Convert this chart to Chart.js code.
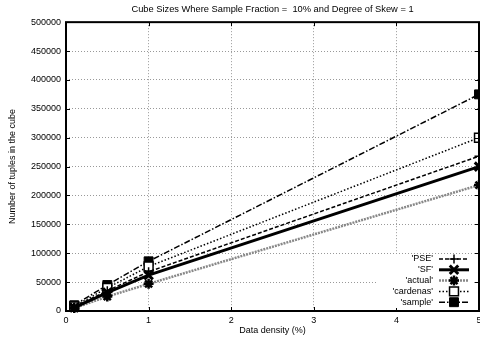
<!DOCTYPE html>
<html><head><meta charset="utf-8">
<script src="https://cdn.jsdelivr.net/npm/chart.js@4/dist/chart.umd.min.js"></script>
<style>html,body{margin:0;padding:0;background:#fff;overflow:hidden}</style>
</head><body>
<canvas id="c" width="480" height="337"></canvas>
<script>
// ---- data ----
const density  = [0.1, 0.5, 1, 5];
const pse      = [7000, 35000, 68000, 268000];
const sf       = [6000, 32000, 62000, 250000];
const actual   = [5000, 25000, 47000, 218000];
const cardenas = [8000, 40000, 77000, 300000];
const sample   = [10000, 45000, 86000, 375000];
const seriesNames = ["'PSE'", "'SF'", "'actual'", "'cardenas'", "'sample'"];
const xTicks = [0, 1, 2, 3, 4, 5];
const yTicks = [0, 50000, 100000, 150000, 200000, 250000, 300000, 350000, 400000, 450000, 500000];
const titleText = 'Cube Sizes Where Sample Fraction =  10% and Degree of Skew = 1';
const xTitle = 'Data density (%)';
const yTitle = 'Number of tuples in the cube';

const FONT = 'Liberation Sans, Arial, Helvetica, sans-serif';
const pts = arr => arr.map((v, i) => ({x: density[i], y: v}));

const styles = [
  {color:'#000', width:1.5, dash:[4,2], pointStyle:'cross', radius:4.5, pw:1.5, bg:'#000'},
  {color:'#000', width:3, dash:[], pointStyle:'crossRot', radius:6, pw:3, bg:'#000'},
  {color:'#888', width:2.5, dash:[2,1], pointStyle:'star', radius:5, pw:2.5, pc:'#000', bg:'#000'},
  {color:'#000', width:1.5, dash:[1.5,2], pointStyle:'rect', radius:6.3, pw:1.5, bg:'#fff'},
  {color:'#000', width:1.5, dash:[6,2,1.5,2], pointStyle:'rect', radius:6.3, pw:1, bg:'#000'}
];
const series = [pse, sf, actual, cardenas, sample];

const datasets = series.map((s, i) => {
  const st = styles[i];
  return {
    label: seriesNames[i], data: pts(s),
    borderColor: st.color, borderWidth: st.width, borderDash: st.dash,
    pointStyle: st.pointStyle, pointRadius: st.radius, pointBorderWidth: st.pw,
    pointBorderColor: st.pc || st.color, pointBackgroundColor: st.bg,
    fill: false, tension: 0, clip: false
  };
});

function drawMarker(ctx, st, x, y) {
  const opts = {pointStyle: st.pointStyle, radius: st.radius, rotation: 0, borderWidth: st.pw};
  ctx.save();
  ctx.setLineDash([]);
  ctx.lineWidth = st.pw;
  ctx.strokeStyle = st.pc || st.color;
  ctx.fillStyle = st.bg;
  Chart.helpers.drawPoint(ctx, opts, x, y);
  ctx.restore();
}

const framePlugin = {
  id: 'frame',
  afterDatasetsDraw(chart) {
    const {ctx, chartArea: a, scales} = chart;
    ctx.save();
    ctx.setLineDash([]);
    ctx.strokeStyle = '#000';
    ctx.lineWidth = 1;
    const tl = 4;
    xTicks.forEach(v => {
      const px = Math.round(scales.x.getPixelForValue(v)) + 0.5;
      ctx.beginPath();
      ctx.moveTo(px, a.bottom); ctx.lineTo(px, a.bottom - tl);
      ctx.moveTo(px, a.top); ctx.lineTo(px, a.top + tl);
      ctx.stroke();
    });
    yTicks.forEach(v => {
      const py = Math.round(scales.y.getPixelForValue(v)) + 0.5;
      ctx.beginPath();
      ctx.moveTo(a.left, py); ctx.lineTo(a.left + tl, py);
      ctx.moveTo(a.right, py); ctx.lineTo(a.right - tl, py);
      ctx.stroke();
    });
    ctx.lineWidth = 2;
    ctx.strokeRect(a.left, a.top, a.right - a.left, a.bottom - a.top);
    // key
    const boxL = a.right - 101, boxR = a.right - 5, boxT = a.bottom - 57, boxB = a.bottom - 3;
    ctx.fillStyle = '#fff';
    ctx.fillRect(boxL, boxT, boxR - boxL, boxB - boxT);
    ctx.font = '9px ' + FONT;
    ctx.textAlign = 'right';
    ctx.textBaseline = 'middle';
    seriesNames.forEach((name, i) => {
      const st = styles[i];
      const y = a.bottom - 52 + i * 10.8;
      ctx.fillStyle = '#000';
      ctx.fillText(name, a.right - 46, y);
      ctx.beginPath();
      ctx.lineWidth = st.width;
      ctx.strokeStyle = st.color;
      ctx.setLineDash(st.dash);
      ctx.moveTo(a.right - 40, y); ctx.lineTo(a.right - 10, y);
      ctx.stroke();
      drawMarker(ctx, st, a.right - 25, y);
    });
    ctx.restore();
  }
};

new Chart(document.getElementById('c'), {
  type: 'line',
  data: {datasets},
  plugins: [framePlugin],
  options: {
    responsive: false, animation: false, devicePixelRatio: 1,
    layout: {autoPadding: false, padding: {top: 0, left: 0, right: 1, bottom: 0}},
    plugins: {
      legend: {display: false},
      tooltip: {enabled: false},
      title: {display: true, fullSize: false, text: titleText, color: '#000',
        font: {family: FONT, size: 9.3, weight: 'normal'}, padding: {top: 3.6, bottom: 7.4}}
    },
    scales: {
      x: {
        type: 'linear', min: 0, max: 5,
        afterBuildTicks: s => { s.ticks = xTicks.map(v => ({value: v})); },
        afterFit: s => { s.height = 26; s.paddingLeft = 0; s.paddingRight = 0; },
        grid: {color: '#999', lineWidth: 1, drawTicks: false},
        border: {display: false, dash: [1, 2]},
        ticks: {color: '#000', padding: 4, maxRotation: 0, font: {family: FONT, size: 9},
          callback: v => String(v)},
        title: {display: true, text: xTitle, color: '#000', font: {family: FONT, size: 9},
          padding: {top: 0, bottom: 1}}
      },
      y: {
        type: 'linear', min: 0, max: 500000,
        afterBuildTicks: s => { s.ticks = yTicks.map(v => ({value: v})); },
        afterFit: s => { s.width = 66; s.paddingTop = 0; s.paddingBottom = 0; },
        grid: {color: '#999', lineWidth: 1, drawTicks: false},
        border: {display: false, dash: [1, 2]},
        ticks: {color: '#000', padding: 5, font: {family: FONT, size: 9},
          callback: v => String(v)},
        title: {display: true, text: yTitle, color: '#000', font: {family: FONT, size: 9},
          padding: {top: 7, bottom: 0}}
      }
    }
  }
});
</script>
</body></html>
